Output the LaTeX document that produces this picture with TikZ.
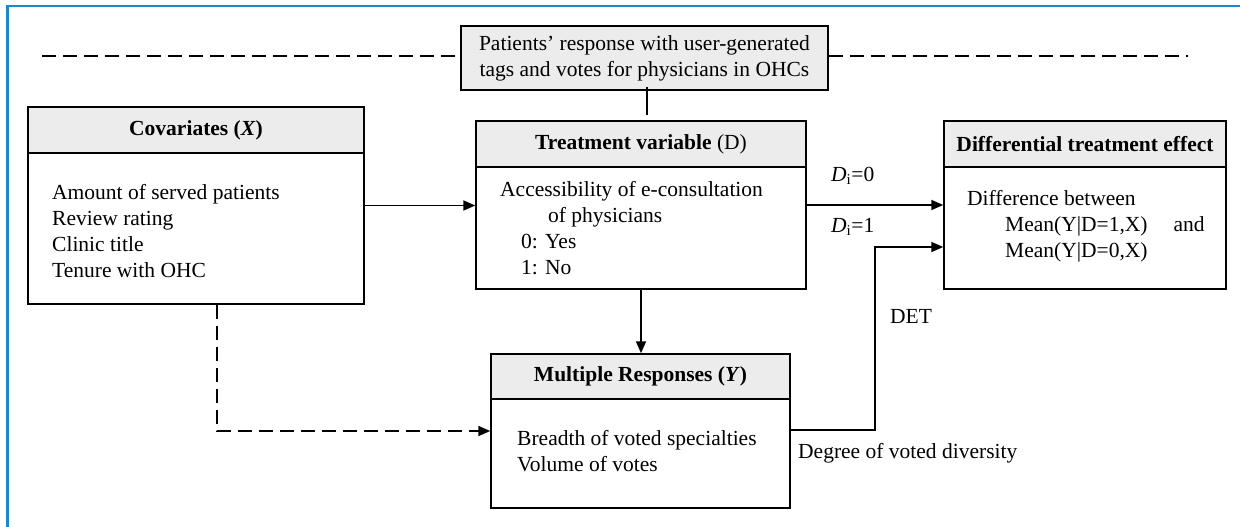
\documentclass[tikz,border=0pt]{standalone}
\usepackage{fontspec}
\setmainfont{Liberation Serif}
\usetikzlibrary{arrows.meta}
\definecolor{hdr}{HTML}{ECECEC}
\definecolor{frameblue}{HTML}{1E88C8}
\begin{document}
\begin{tikzpicture}[x=1pt,y=-1pt,
  box/.style={draw, line width=1.5pt, inner sep=0, fill=white},
  hdrbox/.style={draw, fill=hdr, line width=1.5pt, inner sep=0, anchor=north west, font=\fontsize{21.5}{26}\selectfont},
  txt/.style={font=\fontsize{21.5}{26}\selectfont, inner sep=0, align=left, anchor=base west},
  conn/.style={line width=1.8pt},
  tip/.style={-{Triangle[length=12pt,width=10pt]}},
  arr/.style={conn, tip},
  dsh/.style={line width=1.8pt, dash pattern=on 14pt off 7pt}]
\useasboundingbox (0,0) rectangle (1240,527);
\draw[frameblue, line width=2.5pt] (7.5,530) -- (7.5,6) -- (1243,6);

% top box
\node[box, fill=hdr, minimum width=367pt, minimum height=64pt, align=center,
  font=\fontsize{21.5}{26}\selectfont] (top) at (644.5,58)
  {Patients’ response with user-generated\\tags and votes for physicians in OHCs};

% covariates
\node[box, minimum width=336pt, minimum height=197pt] (cov) at (196,205.5) {};
\node[hdrbox, minimum width=336pt, minimum height=46pt] (covh) at (cov.north west)
  {\textbf{Covariates (\textit{X})}};
\node[txt] (covt) at (52,277) {Amount of served patients\\Review rating\\Clinic title\\Tenure with OHC};

% treatment
\node[box, minimum width=330pt, minimum height=168pt] (trt) at (641,205) {};
\node[hdrbox, minimum width=330pt, minimum height=46pt] (trth) at (trt.north west)
  {\textbf{Treatment variable} (D)};
\node[txt] (trtt) at (500,274) {Accessibility of e-consultation\\\hspace*{48pt}of physicians\\\hspace*{21pt}0: Yes\\\hspace*{21pt}1: No};

% differential treatment effect
\node[box, minimum width=282pt, minimum height=168pt] (dte) at (1085,205) {};
\node[hdrbox, minimum width=282pt, minimum height=46pt] (dteh) at (dte.north west)
  {\textbf{Differential treatment effect}};
\node[txt] (dtet) at (967,257) {Difference between\\\hspace*{38pt}Mean(Y|D=1,X)\hspace*{26pt}and\\\hspace*{38pt}Mean(Y|D=0,X)};

% multiple responses
\node[box, minimum width=299pt, minimum height=154pt] (mr) at (640.5,431) {};
\node[hdrbox, minimum width=299pt, minimum height=45pt] (mrh) at (mr.north west)
  {\textbf{Multiple Responses (\textit{Y})}};
\node[txt] (mrt) at (517,471) {Breadth of voted specialties\\Volume of votes};

% labels
\node[txt] (l0) at (831,181) {\textit{D}\textsubscript{i}=0};
\node[txt] (l1) at (831,232) {\textit{D}\textsubscript{i}=1};
\node[txt] (ldet) at (890,323) {DET};
\node[txt] (ldeg) at (798,458) {Degree of voted diversity};

% dashed top line
\coordinate (dl) at (42,56);
\coordinate (dr) at (1188,56);
\draw[dsh] (dl) -- (dl -| top.west);
\draw[dsh] (dr -| top.east) -- (dr);
\draw[conn] ([xshift=2.5pt,yshift=4pt]top.south) -- ([xshift=2.5pt]top.south |- 0,115);

% connectors
\draw[arr] (cov.east) -- (cov.east -| trt.west);
\draw[arr] (trt.east) -- (trt.east -| dte.west);
\draw[arr] (trt.south) -- (trt.south |- mr.north);
\coordinate (c1) at (217,431);
\draw[dsh, tip] (cov.south -| c1) -- (c1) -- (c1 -| mr.west);
\coordinate (d1) at (875,430);
\coordinate (d2) at (875,247);
\draw[arr] (mr.east |- d1) -- (d1) -- (d2) -- (d2 -| dte.west);
\end{tikzpicture}
\end{document}
